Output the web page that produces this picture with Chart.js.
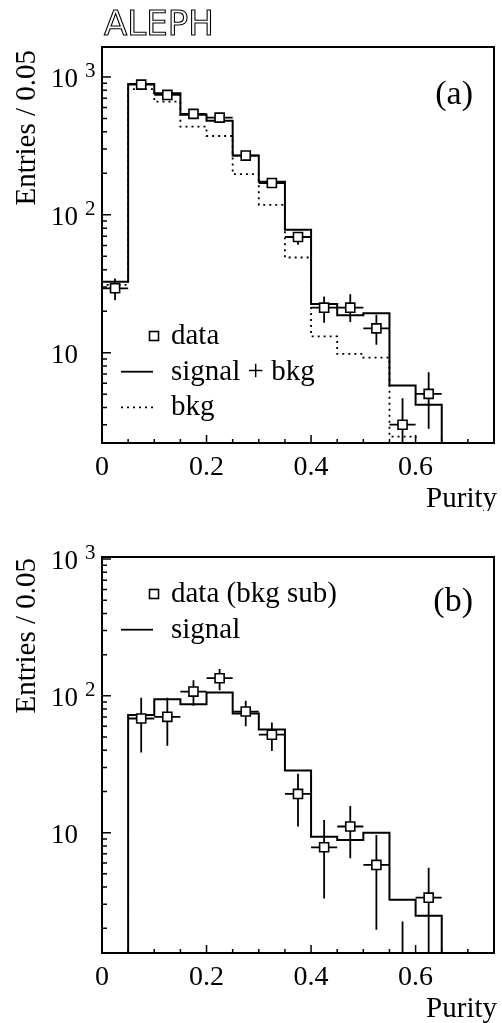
<!DOCTYPE html>
<html>
<head>
<title>ALEPH purity</title>
<script src="https://cdn.jsdelivr.net/npm/chart.js"></script>
<style>
  body { margin: 0; background: #fff; }
  canvas { position: absolute; left: 0; }
</style>
</head>
<body>
<canvas id="chartA" width="502" height="511" style="top:0px"></canvas>
<canvas id="chartB" width="502" height="512" style="top:511px"></canvas>
<script>
// binning: 0.05 wide bins in purity
const binEdges = [0, 0.05, 0.1, 0.15, 0.2, 0.25, 0.3, 0.35, 0.4, 0.45, 0.5, 0.55, 0.6, 0.65];
const binCenters = [0.025, 0.075, 0.125, 0.175, 0.225, 0.275, 0.325, 0.375, 0.425, 0.475, 0.525, 0.575, 0.625];

// panel (a)
const sigBkgA = [32.7, 890, 762, 531, 482, 269, 174, 78, 22.5, 18.7, 19.3, 5.77, 4.18];
const bkgA = [31, 815, 662, 436, 373, 197, 118, 49, 13.1, 9.8, 9.2, 2.46, 1.5];
const dataA = [29.3, 880, 741, 540, 507, 269, 170, 69, 21.2, 21.2, 15.0, 3.0, 5.02];
const dataALow = [24, 850, 714, 517, 485, 253, 157, 60.6, 16.5, 16.7, 11.4, 1.0, 2.8];
const dataAHigh = [34.5, 910, 768, 563, 530, 285, 183, 74, 25.5, 26.5, 18.8, 4.66, 7.2];

// panel (b)
const signalB = [1.0, 72.6, 94.6, 87, 105.7, 74.3, 56.8, 28.5, 9.35, 8.84, 10, 3.23, 2.47];
const centersB = [0.075, 0.125, 0.175, 0.225, 0.275, 0.325, 0.375, 0.425, 0.475, 0.525, 0.575, 0.625];
const dataB = [68.3, 70.3, 107.5, 134.6, 76.8, 52, 19.2, 7.82, 11.1, 5.81, 0.8, 3.35];
const dataBLow = [38.6, 43.2, 84.5, 110, 60, 39.5, 11.1, 3.3, 6.5, 1.95, 0.5, 0.5];
const dataBHigh = [97, 97, 130, 157, 92, 64, 27, 12.4, 15.7, 9.6, 2.24, 5.55];

// axis ticks
const xMajorTicks = [0, 0.2, 0.4, 0.6];
const xTickLabels = ['0', '0.2', '0.4', '0.6'];
const xMinorTicks = [0.05, 0.1, 0.15, 0.25, 0.3, 0.35, 0.45, 0.5, 0.55, 0.65, 0.7];
const yMajorTicks = [10, 100, 1000];
const yTickBase = ['10', '10', '10'];
const yTickSup = ['', '2', '3'];
const yMinorTicks = [2, 3, 4, 5, 6, 7, 8, 9, 20, 30, 40, 50, 60, 70, 80, 90, 200, 300, 400, 500, 600, 700, 800, 900];

const SERIF = '"Liberation Serif", "Times New Roman", serif';
const FLOOR = 0.1; // baseline below the visible range, closes the histogram outline

function histPoints(values) {
  const pts = [{ x: binEdges[0], y: FLOOR }];
  values.forEach((v, i) => pts.push({ x: binEdges[i], y: v }));
  pts.push({ x: binEdges[values.length], y: FLOOR });
  return pts;
}

function drawMarker(ctx, px, py) {
  ctx.save();
  ctx.fillStyle = '#fff';
  ctx.strokeStyle = '#000';
  ctx.lineWidth = 1.6;
  ctx.fillRect(px - 4.5, py - 4.5, 9, 9);
  ctx.strokeRect(px - 4.5, py - 4.5, 9, 9);
  ctx.restore();
}

const rootStyle = {
  id: 'rootStyle',
  beforeDatasetsDraw(chart, args, opts) {
    const { ctx, chartArea: a, scales: { x, y } } = chart;
    ctx.save();
    ctx.beginPath();
    ctx.rect(a.left, a.top, a.right - a.left, a.bottom - a.top);
    ctx.clip();
    ctx.strokeStyle = '#000';
    ctx.lineWidth = 1.8;
    opts.errX.forEach((cx, i) => {
      const px = x.getPixelForValue(cx);
      const py = y.getPixelForValue(opts.errY[i]);
      ctx.beginPath();
      ctx.moveTo(px, y.getPixelForValue(opts.errLow[i]));
      ctx.lineTo(px, y.getPixelForValue(opts.errHigh[i]));
      ctx.moveTo(x.getPixelForValue(cx - 0.025), py);
      ctx.lineTo(x.getPixelForValue(cx + 0.025), py);
      ctx.stroke();
    });
    ctx.restore();
  },
  afterDraw(chart, args, opts) {
    const { ctx, chartArea: a, scales: { x, y } } = chart;
    ctx.save();
    ctx.strokeStyle = '#000';
    ctx.fillStyle = '#000';

    // frame
    ctx.lineWidth = 2;
    ctx.strokeRect(a.left, a.top, a.right - a.left, a.bottom - a.top);

    // ticks
    ctx.lineWidth = 1.5;
    ctx.beginPath();
    xMajorTicks.forEach(v => {
      const px = x.getPixelForValue(v);
      ctx.moveTo(px, a.bottom); ctx.lineTo(px, a.bottom - 8);
    });
    xMinorTicks.forEach(v => {
      const px = x.getPixelForValue(v);
      ctx.moveTo(px, a.bottom); ctx.lineTo(px, a.bottom - 4);
    });
    yMajorTicks.forEach(v => {
      if (v < y.min || v > y.max) return;
      const py = y.getPixelForValue(v);
      ctx.moveTo(a.left, py); ctx.lineTo(a.left + 9, py);
    });
    yMinorTicks.forEach(v => {
      if (v < y.min || v > y.max) return;
      const py = y.getPixelForValue(v);
      ctx.moveTo(a.left, py); ctx.lineTo(a.left + 5, py);
    });
    ctx.stroke();

    // x tick labels
    ctx.font = '28px ' + SERIF;
    ctx.textAlign = 'center';
    ctx.textBaseline = 'alphabetic';
    xMajorTicks.forEach((v, i) => {
      ctx.fillText(xTickLabels[i], x.getPixelForValue(v), a.bottom + 32);
    });
    ctx.font = '29px ' + SERIF;
    ctx.textAlign = 'right';
    ctx.fillText('Purity', 497, a.bottom + 64);

    // y tick labels
    yMajorTicks.forEach((v, i) => {
      if (v < y.min || v > y.max) return;
      const py = y.getPixelForValue(v);
      ctx.font = '27px ' + SERIF;
      ctx.textAlign = 'right';
      ctx.fillText(yTickBase[i], 78, py + 10);
      if (yTickSup[i]) {
        ctx.font = '21px ' + SERIF;
        ctx.textAlign = 'left';
        ctx.fillText(yTickSup[i], 85, py);
      }
    });

    // y axis title
    ctx.save();
    ctx.translate(35, opts.titleTop);
    ctx.rotate(-Math.PI / 2);
    ctx.font = '29px ' + SERIF;
    ctx.textAlign = 'right';
    ctx.fillText('Entries / 0.05', 0, 0);
    ctx.restore();

    // panel label
    ctx.font = '34px ' + SERIF;
    ctx.textAlign = 'right';
    ctx.fillText(opts.panel, 473, opts.panelBaseline);

    // legend
    ctx.font = '29px ' + SERIF;
    ctx.textAlign = 'left';
    opts.legend.forEach((item, i) => {
      const ly = opts.legendTop + i * 35.7;
      if (item.kind === 'marker') {
        drawMarker(ctx, 154, ly);
      } else {
        ctx.save();
        ctx.lineWidth = 1.8;
        if (item.kind === 'dotted') ctx.setLineDash([2, 4]);
        ctx.beginPath();
        ctx.moveTo(121, ly); ctx.lineTo(153, ly);
        ctx.stroke();
        ctx.restore();
      }
      ctx.fillText(item.text, 171, ly + 8);
    });

    // experiment tag
    if (opts.tag) {
      ctx.font = '34px "DejaVu Sans", sans-serif';
      ctx.textAlign = 'left';
      ctx.lineWidth = 1.1;
      ctx.strokeText(opts.tag, 104, 35);
    }
    ctx.restore();
  }
};

function makeChart(id, cfg) {
  const datasets = [
    {
      label: 'data',
      data: cfg.centers.map((c, i) => ({ x: c, y: cfg.data[i] })),
      showLine: false,
      pointStyle: 'rect',
      pointRadius: 6.4,
      pointBackgroundColor: '#fff',
      pointBorderColor: '#000',
      pointBorderWidth: 1.6
    }
  ];
  cfg.hists.forEach(h => datasets.push({
    label: h.label,
    data: histPoints(h.values),
    stepped: true,
    borderColor: '#000',
    borderWidth: h.dotted ? 1.8 : 2,
    borderDash: h.dotted ? [2, 4] : [],
    pointRadius: 0,
    fill: false
  }));

  return new Chart(document.getElementById(id), {
    type: 'line',
    data: { datasets },
    options: {
      responsive: false,
      animation: false,
      layout: { padding: cfg.padding },
      scales: {
        x: { type: 'linear', min: 0, max: 0.75, display: false },
        y: { type: 'logarithmic', min: cfg.yMin, max: cfg.yMax, display: false }
      },
      plugins: {
        legend: { display: false },
        tooltip: { enabled: false },
        rootStyle: {
          errX: cfg.centers, errY: cfg.data, errLow: cfg.low, errHigh: cfg.high,
          panel: cfg.panel, panelBaseline: cfg.panelBaseline,
          titleTop: cfg.titleTop, legend: cfg.legend, legendTop: cfg.legendTop,
          tag: cfg.tag
        }
      }
    },
    plugins: [rootStyle]
  });
}

makeChart('chartA', {
  centers: binCenters, data: dataA, low: dataALow, high: dataAHigh,
  hists: [
    { label: 'signal + bkg', values: sigBkgA },
    { label: 'bkg', values: bkgA, dotted: true }
  ],
  yMin: 2.21, yMax: 1650,
  padding: { left: 102, right: 3, top: 47, bottom: 68 },
  panel: '(a)', panelBaseline: 104, titleTop: 50,
  legend: [
    { kind: 'marker', text: 'data' },
    { kind: 'solid', text: 'signal + bkg' },
    { kind: 'dotted', text: 'bkg' }
  ],
  legendTop: 336,
  tag: 'ALEPH'
});

makeChart('chartB', {
  centers: centersB, data: dataB, low: dataBLow, high: dataBHigh,
  hists: [
    { label: 'signal', values: signalB }
  ],
  yMin: 1.32, yMax: 1035,
  padding: { left: 102, right: 3, top: 46, bottom: 70 },
  panel: '(b)', panelBaseline: 100, titleTop: 47,
  legend: [
    { kind: 'marker', text: 'data (bkg sub)' },
    { kind: 'solid', text: 'signal' }
  ],
  legendTop: 83
});
</script>
</body>
</html>
